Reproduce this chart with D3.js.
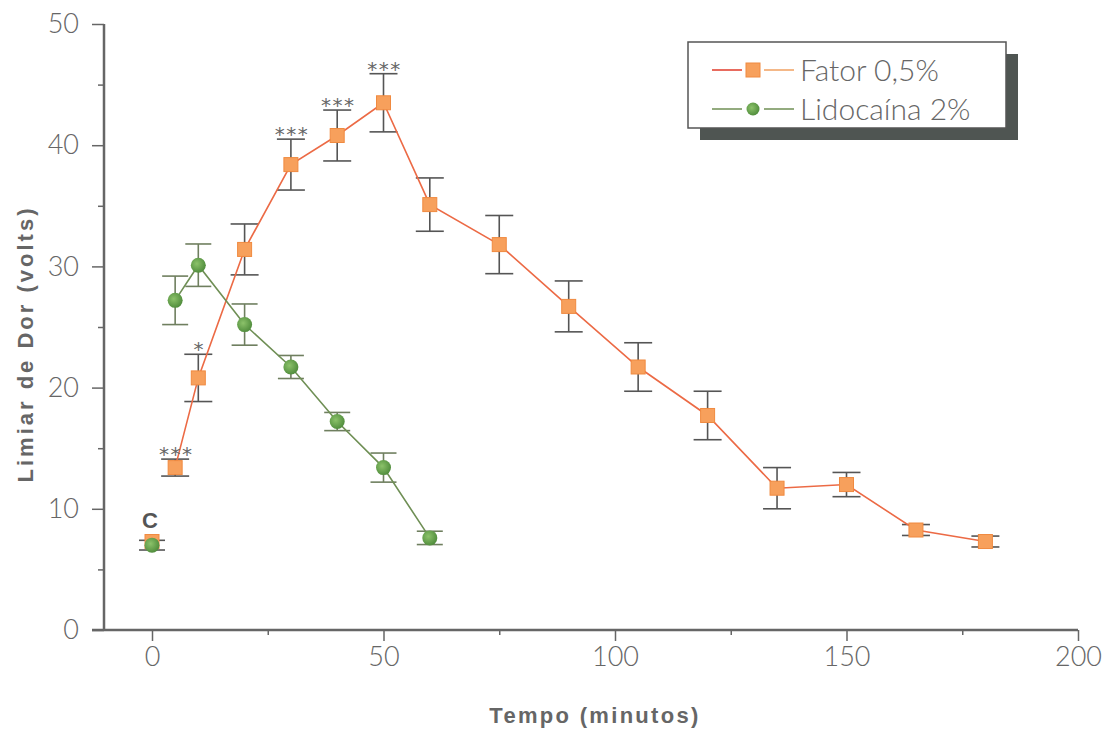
<!DOCTYPE html>
<html><head><meta charset="utf-8">
<script src="https://cdn.jsdelivr.net/npm/d3@7"></script>
<style>body{margin:0;background:#fff;} svg{display:block;}</style>
</head><body>
<svg id="chart" width="1109" height="730"></svg>
<script>
const xTicks = [0, 50, 100, 150, 200];
const yTicks = [0, 10, 20, 30, 40, 50];
const fatorTime = [5, 10, 20, 30, 40, 50, 60, 75, 90, 105, 120, 135, 150, 165, 180];
const fatorMean = [13.4, 20.8, 31.4, 38.4, 40.8, 43.5, 35.1, 31.8, 26.7, 21.7, 17.7, 11.7, 12.0, 8.25, 7.3];
const fatorErr  = [0.7, 1.95, 2.1, 2.1, 2.1, 2.4, 2.2, 2.4, 2.1, 2.0, 2.0, 1.7, 1.0, 0.45, 0.45];
const lidoTime = [5, 10, 20, 30, 40, 50, 60];
const lidoMean = [27.2, 30.1, 25.2, 21.7, 17.2, 13.4, 7.6];
const lidoErr  = [2.0, 1.75, 1.7, 0.95, 0.75, 1.2, 0.55];
const controlTime = [0];
const controlFator = [7.3];
const controlLido = [7.0];
const controlErr = [0.4];
const stars = [{t:5, label:"***"}, {t:10, label:"*"}, {t:30, label:"***"}, {t:40, label:"***"}, {t:50, label:"***"}];
const seriesNames = ["Fator 0,5%", "Lidocaína 2%"];

const svg = d3.select("#chart");
const x = d3.scaleLinear().domain([0, 200]).range([152, 1078]);
const y = d3.scaleLinear().domain([0, 50]).range([630, 24]);
const axisColor = "#666";
const textColor = "#666";
const font = "Liberation Sans, Arial, sans-serif";
const lightFont = "Lato, 'Open Sans', sans-serif";

// axes
const gx = svg.append("g").attr("transform", "translate(0,630)")
  .call(d3.axisBottom(x).tickValues(xTicks).tickSize(11).tickSizeOuter(0).tickPadding(6));
gx.select(".domain").remove();
gx.append("line").attr("x1", 92).attr("x2", 1078).attr("stroke", axisColor).attr("stroke-width", 2.5);
gx.selectAll(".tick line").attr("stroke", axisColor).attr("stroke-width", 1.5);
gx.selectAll(".tick text").attr("fill", textColor).attr("font-size", 27).attr("font-family", lightFont).attr("font-weight", 300);
svg.append("g").attr("transform", "translate(0,630)")
  .call(d3.axisBottom(x).tickValues([25, 75, 125, 175]).tickSize(5).tickFormat(""))
  .call(g => { g.select(".domain").remove(); g.selectAll("line").attr("stroke", axisColor).attr("stroke-width", 1.5); });

const gy = svg.append("g").attr("transform", "translate(104,0)")
  .call(d3.axisLeft(y).tickValues(yTicks).tickSize(12).tickSizeOuter(0).tickPadding(13));
gy.select(".domain").remove();
gy.append("line").attr("y1", 24).attr("y2", 630).attr("stroke", axisColor).attr("stroke-width", 2.5);
gy.selectAll(".tick line").attr("stroke", axisColor).attr("stroke-width", 1.5);
gy.selectAll(".tick text").attr("fill", textColor).attr("font-size", 27).attr("font-family", lightFont).attr("font-weight", 300);
svg.append("g").attr("transform", "translate(104,0)")
  .call(d3.axisLeft(y).tickValues([5, 15, 25, 35, 45]).tickSize(6).tickFormat(""))
  .call(g => { g.select(".domain").remove(); g.selectAll("line").attr("stroke", axisColor).attr("stroke-width", 1.5); });

// axis titles
svg.append("text").attr("x", 595).attr("y", 723).attr("text-anchor", "middle")
  .attr("font-family", font).attr("font-weight", "bold").attr("font-size", 22).attr("letter-spacing", 2.3).attr("fill", textColor)
  .text("Tempo (minutos)");
svg.append("text").attr("transform", "translate(33,344) rotate(-90)").attr("text-anchor", "middle")
  .attr("font-family", font).attr("font-weight", "bold").attr("font-size", 22).attr("letter-spacing", 3).attr("fill", textColor)
  .text("Limiar de Dor (volts)");

// error bars
function errBars(times, means, errs, color, cap) {
  const g = svg.append("g").attr("stroke", color).attr("stroke-width", 1.6);
  times.forEach((t, i) => {
    const cx = x(t), y1 = y(means[i] + errs[i]), y2 = y(means[i] - errs[i]);
    g.append("line").attr("x1", cx).attr("x2", cx).attr("y1", y1).attr("y2", y2);
    g.append("line").attr("x1", cx - cap).attr("x2", cx + cap).attr("y1", y1).attr("y2", y1);
    g.append("line").attr("x1", cx - cap).attr("x2", cx + cap).attr("y1", y2).attr("y2", y2);
  });
}
errBars(fatorTime, fatorMean, fatorErr, "#555", 14);
errBars(lidoTime, lidoMean, lidoErr, "#6f7f5f", 13);
errBars(controlTime, controlLido, controlErr, "#555", 13);

// lines
const line = d3.line().x(d => x(d[0])).y(d => y(d[1]));
svg.append("path").datum(d3.zip(fatorTime, fatorMean)).attr("d", line)
  .attr("fill", "none").attr("stroke", "#ec6a45").attr("stroke-width", 1.6);
svg.append("path").datum(d3.zip(lidoTime, lidoMean)).attr("d", line)
  .attr("fill", "none").attr("stroke", "#6f8f55").attr("stroke-width", 1.6);

// markers
const defs = svg.append("defs");
const rg = defs.append("radialGradient").attr("id", "gball").attr("cx", "40%").attr("cy", "40%").attr("r", "65%");
rg.append("stop").attr("offset", "0%").attr("stop-color", "#8cc26a");
rg.append("stop").attr("offset", "100%").attr("stop-color", "#4d8a3a");

function squares(times, means) {
  svg.append("g").selectAll("rect").data(d3.zip(times, means)).join("rect")
    .attr("x", d => x(d[0]) - 7).attr("y", d => y(d[1]) - 7).attr("width", 14).attr("height", 14)
    .attr("fill", "#f7a05c").attr("stroke", "#f08a40").attr("stroke-width", 1);
}
function circles(times, means) {
  svg.append("g").selectAll("circle").data(d3.zip(times, means)).join("circle")
    .attr("cx", d => x(d[0])).attr("cy", d => y(d[1])).attr("r", 7.5)
    .attr("fill", "url(#gball)");
}
squares(controlTime, controlFator);
circles(controlTime, controlLido);
squares(fatorTime, fatorMean);
circles(lidoTime, lidoMean);

// significance stars
stars.forEach(s => {
  const i = fatorTime.indexOf(s.t);
  svg.append("text").attr("x", x(s.t) + 1).attr("y", y(fatorMean[i] + fatorErr[i]) + 2)
    .attr("text-anchor", "middle").attr("font-family", "DejaVu Sans, sans-serif").attr("font-size", 20)
    .attr("fill", "#666").attr("letter-spacing", 1.5).text(s.label);
});
svg.append("text").attr("x", x(0) - 2).attr("y", 528).attr("text-anchor", "middle")
  .attr("font-family", font).attr("font-weight", "bold").attr("font-size", 22).attr("fill", "#555").text("C");

// legend
const lg = svg.append("g");
lg.append("rect").attr("x", 700).attr("y", 54).attr("width", 318).attr("height", 86).attr("fill", "#4f5552");
lg.append("rect").attr("x", 688).attr("y", 42).attr("width", 318).attr("height", 86).attr("fill", "#fff")
  .attr("stroke", "#555").attr("stroke-width", 1.5);
const legendRows = [
  {name: seriesNames[0], y: 70, c1: "#e03a2a", c2: "#f0a060", marker: "sq"},
  {name: seriesNames[1], y: 109, c1: "#6f8f55", c2: "#6f8f55", marker: "ci"}
];
legendRows.forEach(r => {
  lg.append("line").attr("x1", 712).attr("x2", 742).attr("y1", r.y).attr("y2", r.y).attr("stroke", r.c1).attr("stroke-width", 1.5);
  lg.append("line").attr("x1", 764).attr("x2", 794).attr("y1", r.y).attr("y2", r.y).attr("stroke", r.c2).attr("stroke-width", 1.5);
  if (r.marker === "sq") lg.append("rect").attr("x", 746).attr("y", r.y - 7).attr("width", 14).attr("height", 14).attr("fill", "#f7a05c").attr("stroke", "#f08a40");
  else lg.append("circle").attr("cx", 753).attr("cy", r.y).attr("r", 6.5).attr("fill", "url(#gball)");
  lg.append("text").attr("x", 800).attr("y", r.y + 11).attr("font-family", lightFont).attr("font-size", 30)
    .attr("font-weight", 300).attr("fill", "#666").text(r.name);
});
</script>
</body></html>
